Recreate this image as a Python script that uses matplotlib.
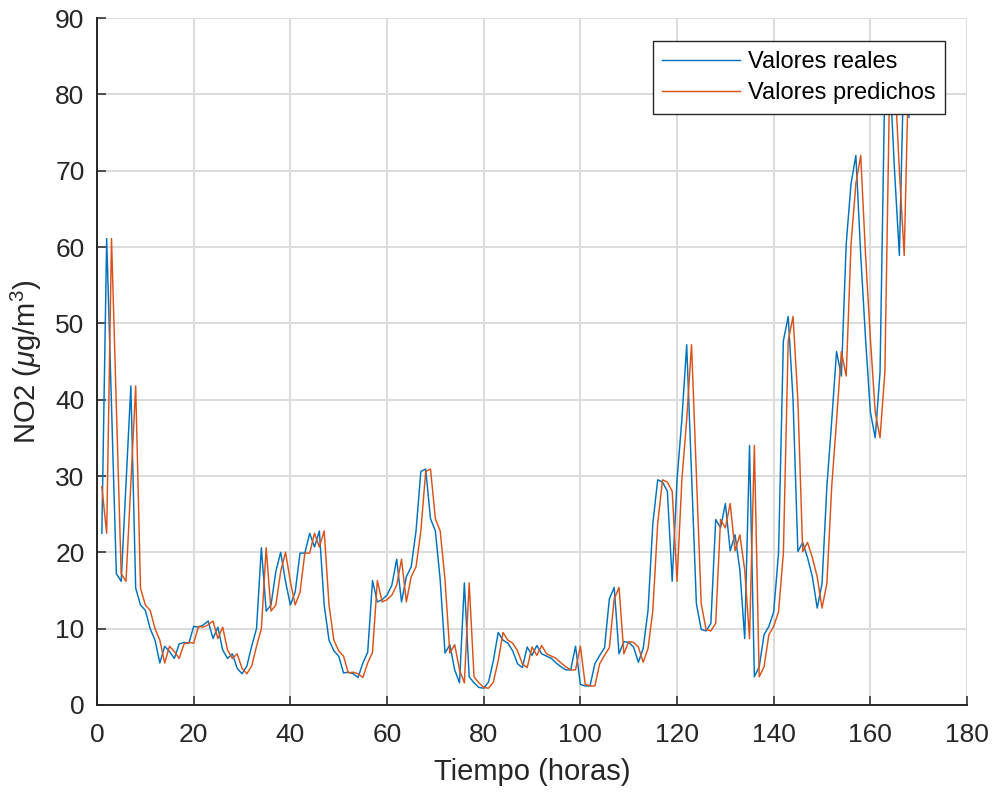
import matplotlib
matplotlib.use("Agg")
import matplotlib.pyplot as plt

plt.rcParams['font.family'] = ['Liberation Sans', 'DejaVu Sans']
plt.rcParams['mathtext.fontset'] = 'custom'
plt.rcParams['mathtext.rm'] = 'Liberation Sans'
plt.rcParams['mathtext.it'] = 'Liberation Sans:italic'

hours = list(range(1, 169))

real_values = [
    22.5, 61.1, 39.2, 17.2, 16.2, 29.0, 41.8, 15.3, 13.1, 12.4, 10.0, 8.5,
    5.5, 7.7, 7.0, 6.1, 8.0, 8.2, 8.1, 10.3, 10.2, 10.5, 11.0, 8.7,
    10.2, 7.2, 6.1, 6.7, 4.8, 4.1, 5.1, 7.7, 10.0, 20.6, 12.3, 13.1,
    17.5, 20.0, 16.2, 13.1, 14.8, 19.9, 19.9, 22.5, 20.7, 22.8, 13.1, 8.5,
    7.1, 6.4, 4.2, 4.3, 4.1, 3.6, 5.5, 6.9, 16.3, 13.5, 13.8, 14.4,
    15.7, 19.1, 13.5, 16.8, 18.1, 22.8, 30.6, 30.9, 24.4, 22.8, 16.4, 6.8,
    7.9, 4.6, 2.9, 16.0, 3.7, 2.9, 2.3, 2.2, 3.0, 5.8, 9.5, 8.5,
    8.1, 7.1, 5.4, 4.9, 7.6, 6.5, 7.8, 6.7, 6.4, 6.1, 5.5, 5.0,
    4.6, 4.6, 7.7, 2.7, 2.5, 2.5, 5.4, 6.5, 7.5, 13.9, 15.4, 6.7,
    8.3, 8.2, 7.6, 5.6, 7.4, 12.4, 23.8, 29.5, 29.2, 28.0, 16.2, 29.5,
    37.4, 47.2, 30.4, 13.3, 9.9, 9.7, 10.7, 24.3, 23.2, 26.4, 20.2, 22.3,
    17.7, 8.7, 34.0, 3.7, 5.0, 9.2, 10.3, 12.2, 19.9, 47.7, 50.9, 40.0,
    20.1, 21.3, 19.3, 16.8, 12.7, 15.9, 28.6, 37.2, 46.3, 43.1, 60.4, 68.3,
    72.0, 59.0, 48.0, 38.4, 35.0, 43.6, 82.0, 83.0, 70.0, 58.9, 86.0, 77.0,
]

predicted_values = [
    28.6, 22.5, 61.1, 39.2, 17.2, 16.2, 29.0, 41.8, 15.3, 13.1, 12.4, 10.0,
    8.5, 5.5, 7.7, 7.0, 6.1, 8.0, 8.2, 8.1, 10.3, 10.2, 10.5, 11.0,
    8.7, 10.2, 7.2, 6.1, 6.7, 4.8, 4.1, 5.1, 7.7, 10.0, 20.6, 12.3,
    13.1, 17.5, 20.0, 16.2, 13.1, 14.8, 19.9, 19.9, 22.5, 20.7, 22.8, 13.1,
    8.5, 7.1, 6.4, 4.2, 4.3, 4.1, 3.6, 5.5, 6.9, 16.3, 13.5, 13.8,
    14.4, 15.7, 19.1, 13.5, 16.8, 18.1, 22.8, 30.6, 30.9, 24.4, 22.8, 16.4,
    6.8, 7.9, 4.6, 2.9, 16.0, 3.7, 2.9, 2.3, 2.2, 3.0, 5.8, 9.5,
    8.5, 8.1, 7.1, 5.4, 4.9, 7.6, 6.5, 7.8, 6.7, 6.4, 6.1, 5.5,
    5.0, 4.6, 4.6, 7.7, 2.7, 2.5, 2.5, 5.4, 6.5, 7.5, 13.9, 15.4,
    6.7, 8.3, 8.2, 7.6, 5.6, 7.4, 12.4, 23.8, 29.5, 29.2, 28.0, 16.2,
    29.5, 37.4, 47.2, 30.4, 13.3, 9.9, 9.7, 10.7, 24.3, 23.2, 26.4, 20.2,
    22.3, 17.7, 8.7, 34.0, 3.7, 5.0, 9.2, 10.3, 12.2, 19.9, 47.7, 50.9,
    40.0, 20.1, 21.3, 19.3, 16.8, 12.7, 15.9, 28.6, 37.2, 46.3, 43.1, 60.4,
    68.3, 72.0, 59.0, 48.0, 38.4, 35.0, 43.6, 82.0, 83.0, 70.0, 58.9, 86.0,
]

x_ticks = [0, 20, 40, 60, 80, 100, 120, 140, 160, 180]
y_ticks = [0, 10, 20, 30, 40, 50, 60, 70, 80, 90]

series_labels = ["Valores reales", "Valores predichos"]
x_label = "Tiempo (horas)"
y_label = r"NO2 ($\mu$g/m$^3$)"

fig = plt.figure(figsize=(9.95, 7.94), dpi=100)
ax = fig.add_axes([0.0975, 0.1121, 0.8744, 0.8652])

ax.plot(hours, real_values, color='#0072BD', linewidth=1.05, label=series_labels[0])
ax.plot(hours, predicted_values, color='#D95319', linewidth=1.05, label=series_labels[1])

ax.set_xlim(0, 180)
ax.set_ylim(0, 90)
ax.set_xticks(x_ticks)
ax.set_yticks(y_ticks)

ax.grid(True, color='#dcdcdc', linewidth=1.4)
ax.set_axisbelow(True)

for side in ['top', 'right']:
    ax.spines[side].set_visible(False)
for side in ['left', 'bottom']:
    ax.spines[side].set_color('#262626')
    ax.spines[side].set_linewidth(1.4)

ax.tick_params(direction='in', length=6.5, width=1.1, colors='#262626',
               labelsize=19)
ax.tick_params(axis='x', pad=13)
ax.tick_params(axis='y', pad=9)
for lbl in ax.get_xticklabels() + ax.get_yticklabels():
    lbl.set_color('#262626')

ax.set_xlabel(x_label, fontsize=21, color='#262626', labelpad=8)
ax.set_ylabel(y_label, fontsize=21, color='#262626', labelpad=8)

leg = ax.legend(loc='upper right', bbox_to_anchor=(0.975, 0.966),
                borderaxespad=0, fontsize=17, fancybox=False,
                edgecolor='#262626', framealpha=1, handlelength=3.3,
                handletextpad=0.35, borderpad=0.4, labelspacing=0.4)
leg.get_frame().set_linewidth(1.0)

fig.savefig("out.png", dpi=100)
